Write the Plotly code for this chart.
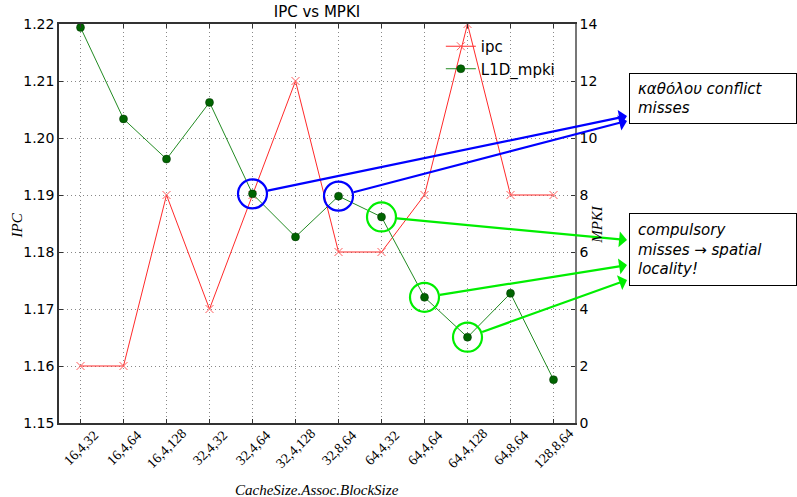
import plotly.graph_objects as go

categories = ["16,4,32", "16,4,64", "16,4,128", "32,4,32", "32,4,64", "32,4,128",
              "32,8,64", "64,4,32", "64,4,64", "64,4,128", "64,8,64", "128,8,64"]
ipc = [1.16, 1.16, 1.19, 1.17, 1.19, 1.21, 1.18, 1.18, 1.19, 1.22, 1.19, 1.19]
l1d_mpki = [13.88, 10.67, 9.26, 11.25, 8.04, 6.53, 7.96, 7.23, 4.41, 3.01, 4.55, 1.52]

ipc_ticks = [1.15, 1.16, 1.17, 1.18, 1.19, 1.20, 1.21, 1.22]
mpki_ticks = [0, 2, 4, 6, 8, 10, 12, 14]

# highlighted points (category index) and where their arrows point (x index, MPKI units)
blue_idx = [4, 6]
blue_targets = [(12.71, 10.77), (12.71, 10.60)]
green_idx = [7, 8, 9]
green_targets = [(12.71, 6.42), (12.71, 5.54), (12.71, 5.02)]

box1_text = "καθόλου conflict<br>misses"
box2_text = "compulsory<br>misses → spatial<br>locality!"

x = list(range(len(categories)))

fig = go.Figure()
fig.add_trace(go.Scatter(
    x=x, y=ipc, name="ipc", mode="lines+markers",
    line=dict(color="#ff2a2a", width=1),
    marker=dict(symbol="x-thin", size=8, color="#ff6060", line=dict(color="#ff6060", width=1)),
    yaxis="y"))
fig.add_trace(go.Scatter(
    x=x, y=l1d_mpki, name="L1D_mpki", mode="lines+markers",
    line=dict(color="#228b22", width=1),
    marker=dict(symbol="circle", size=8, color="#006400", line=dict(color="#003000", width=0.5)),
    yaxis="y2"))

# circles around highlighted points
fig.add_trace(go.Scatter(
    x=blue_idx, y=[l1d_mpki[i] for i in blue_idx], mode="markers", showlegend=False,
    marker=dict(symbol="circle-open", size=29, color="#0000ff", line=dict(width=2.2)),
    yaxis="y2", hoverinfo="skip"))
fig.add_trace(go.Scatter(
    x=green_idx, y=[l1d_mpki[i] for i in green_idx], mode="markers", showlegend=False,
    marker=dict(symbol="circle-open", size=29, color="#00ee00", line=dict(width=2.2)),
    yaxis="y2", hoverinfo="skip"))

annotations = []
for idx, (tx, ty) in zip(blue_idx, blue_targets):
    annotations.append(dict(
        x=tx, y=ty, xref="x", yref="y2", ax=idx, ay=l1d_mpki[idx], axref="x", ayref="y2",
        text="", showarrow=True, arrowhead=1, arrowsize=1.2, arrowwidth=2.2,
        arrowcolor="#0000ff", startstandoff=14))
for idx, (tx, ty) in zip(green_idx, green_targets):
    annotations.append(dict(
        x=tx, y=ty, xref="x", yref="y2", ax=idx, ay=l1d_mpki[idx], axref="x", ayref="y2",
        text="", showarrow=True, arrowhead=1, arrowsize=1.2, arrowwidth=2.2,
        arrowcolor="#00ee00", startstandoff=14))

box_font = dict(family="DejaVu Sans", size=15, color="black", style="italic")
annotations.append(dict(
    text=box1_text, xref="paper", yref="paper", x=1.1047, y=0.877,
    xanchor="left", yanchor="top", align="left", valign="middle",
    showarrow=False, bordercolor="black", borderwidth=1, borderpad=8,
    width=150, height=33, bgcolor="white", font=box_font))
annotations.append(dict(
    text=box2_text, xref="paper", yref="paper", x=1.1047, y=0.526,
    xanchor="left", yanchor="top", align="left", valign="middle",
    showarrow=False, bordercolor="black", borderwidth=1, borderpad=8,
    width=150, height=55, bgcolor="white", font=box_font))

serif = "Liberation Serif"
# rotated category labels, centred under each tick (matplotlib style)
for i, lab in zip(x, categories):
    annotations.append(dict(
        text=lab, xref="x", yref="paper", x=i, y=-0.063, xanchor="center",
        yanchor="middle", textangle=-45, showarrow=False,
        font=dict(family=serif, size=14, color="black")))

annotations.append(dict(
    text="IPC", xref="paper", yref="paper", x=-0.1, y=0.496, textangle=-90,
    showarrow=False, font=dict(family=serif, size=15, style="italic", color="black")))
annotations.append(dict(
    text="MPKI", xref="paper", yref="paper", x=1.063, y=0.498, textangle=-90,
    showarrow=False, font=dict(family=serif, size=15, style="italic", color="black")))
annotations.append(dict(
    text="CacheSize.Assoc.BlockSize", xref="paper", yref="paper", x=0.5, y=-0.168,
    yanchor="middle", showarrow=False,
    font=dict(family=serif, size=15, style="italic", color="black")))

grid = dict(showgrid=True, gridcolor="#888", griddash="1px,3px", gridwidth=1)

fig.update_layout(
    width=797, height=497,
    margin=dict(l=59, r=222, t=24, b=74),
    plot_bgcolor="white", paper_bgcolor="white",
    title=dict(text="IPC vs MPKI", x=0.3977, xanchor="center", y=1 - 12 / 497,
               yanchor="middle", yref="container",
               font=dict(family="DejaVu Sans", size=15, color="black")),
    xaxis=dict(
        range=[-0.5, 11.5], tickvals=x, showticklabels=False,
        showline=True, linecolor="#333", linewidth=1.5, mirror="ticks",
        ticks="inside", ticklen=4, tickcolor="#333", zeroline=False, **grid),
    yaxis=dict(
        range=[1.15, 1.22], tickvals=ipc_ticks, tickformat=".2f",
        tickfont=dict(family="DejaVu Sans", size=14, color="black"),
        showline=True, linecolor="#333", linewidth=1.5,
        ticks="inside", ticklen=4, tickcolor="#333", zeroline=False, **grid),
    yaxis2=dict(
        range=[0, 14], tickvals=mpki_ticks, overlaying="y", side="right",
        tickfont=dict(family="DejaVu Sans", size=14, color="black"),
        showgrid=False, showline=True, linecolor="#777", linewidth=1.5,
        ticks="inside", ticklen=4, tickcolor="#333", zeroline=False),
    legend=dict(
        x=0.74, y=0.985, xanchor="left", yanchor="top", bgcolor="rgba(0,0,0,0)",
        font=dict(family="DejaVu Sans", size=15, color="black"), tracegroupgap=4),
    annotations=annotations,
    showlegend=True,
)

fig.write_html("out.html")
